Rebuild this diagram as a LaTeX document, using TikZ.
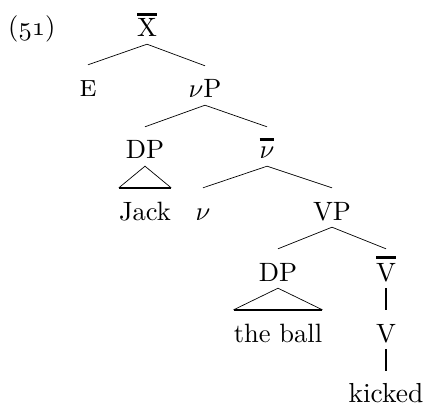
\documentclass[tikz,border=0pt]{standalone}
\usepackage{fontspec}
\newcommand\obar[2][8pt]{\leavevmode\setbox0\hbox{#2}\rlap{\rule[#1]{\wd0}{1.15pt}}\box0}
\newcommand\osnum[1]{{\usefont{OML}{cmm}{m}{it}#1}}
\newcommand\tx[2][2.65]{\scalebox{#1}{\fontsize{10}{12}\selectfont #2}}
\tikzset{
  lbl/.style={anchor=base, inner xsep=0pt, inner ysep=7pt, text height=25pt, text depth=0pt},
  edge/.style={line width=0.7pt},
  vedge/.style={line width=1.6pt},
  tribase/.style={line width=2.6pt},
}
\begin{document}
\begin{tikzpicture}[x=1pt,y=-1pt]
\useasboundingbox (0,0) rectangle (425,406);
\node[lbl, anchor=base west] (ex) at (8,36) {\tx{(\osnum{51})}};
\node[lbl] (Xb) at (147,37) {\tx{\obar[8pt]{X}}};
\node[lbl] (E) at (88,97) {\tx[3.1]{\textsc{e}}};
\node[lbl] (vP) at (205,98) {\tx{$\nu$P}};
\node[lbl] (DP1) at (145,159) {\tx{DP}};
\node[lbl] (vb) at (267,159) {\tx{\obar[6.7pt]{$\nu$}}};
\node[lbl] (Jack) at (145,220) {\tx{Jack}};
\node[lbl] (v) at (203,220) {\tx{$\nu$}};
\node[lbl] (VP) at (332,220) {\tx{VP}};
\node[lbl] (DP2) at (278,281) {\tx{DP}};
\node[lbl] (Vb) at (386,281) {\tx{\obar[8.4pt]{V}}};
\node[lbl] (ball) at (278,342) {\tx{the ball}};
\node[lbl] (V) at (386,342) {\tx{V}};
\node[lbl, inner ysep=2pt, text height=29pt] (kicked) at (386,402) {\tx[2.75]{kicked}};
\draw[edge] (Xb.south) -- (E.north);
\draw[edge] (Xb.south) -- (vP.north);
\draw[edge] (vP.south) -- (DP1.north);
\draw[edge] (vP.south) -- (vb.north);
\draw[edge] (vb.south) -- (v.north);
\draw[edge] (vb.south) -- (VP.north);
\draw[edge] (VP.south) -- (DP2.north);
\draw[edge] (VP.south) -- (Vb.north);
\draw[edge] (Jack.north west) -- (DP1.south) -- (Jack.north east);
\draw[tribase] (Jack.north west) -- (Jack.north east);
\draw[edge] (ball.north west) -- (DP2.south) -- (ball.north east);
\draw[tribase] (ball.north west) -- (ball.north east);
\draw[vedge] (Vb.south) -- (V.north);
\draw[vedge] (V.south) -- (kicked.north);
\end{tikzpicture}
\end{document}
